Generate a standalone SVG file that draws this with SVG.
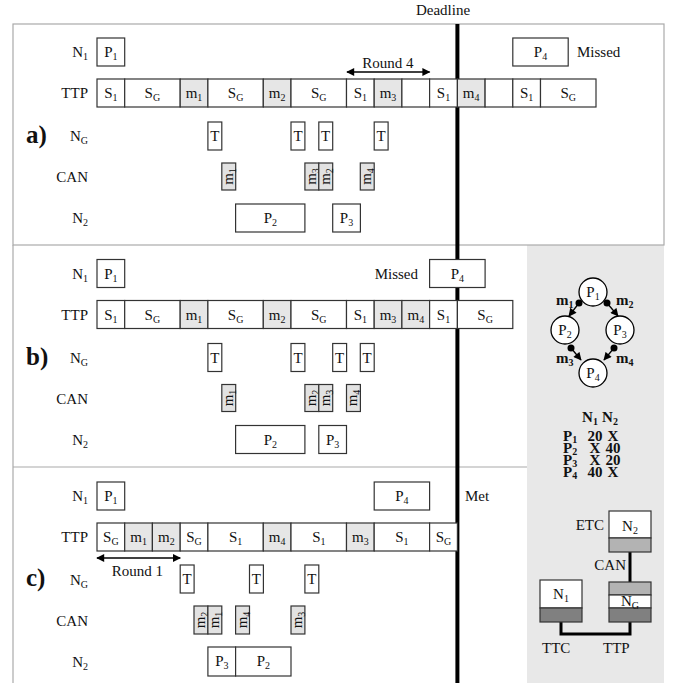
<svg xmlns="http://www.w3.org/2000/svg" width="676" height="683" viewBox="0 0 676 683">
<style>
text{font-family:"Liberation Serif","Times New Roman",serif;font-size:15px;fill:#111}
.r{text-anchor:end}
.c{text-anchor:middle}
.s{font-size:10px}
.b{fill:#fff;stroke:#333;stroke-width:1.2}
.g{fill:#e6e6e6;stroke:#333;stroke-width:1.2}
.cg{fill:#e2e2e2;stroke:#333;stroke-width:1.2}
.pl{font-size:25px;font-weight:bold}
.bd{font-weight:bold}
.frame{fill:none;stroke:#aaa;stroke-width:1.2}
</style>
<defs>
<marker id="ah" viewBox="0 0 10 10" refX="9" refY="5" markerWidth="10" markerHeight="8" markerUnits="userSpaceOnUse" orient="auto-start-reverse"><path d="M0,0 L10,5 L0,10 z" fill="#000"/></marker>
<marker id="ga" viewBox="0 0 10 10" refX="9" refY="5" markerWidth="9" markerHeight="8" markerUnits="userSpaceOnUse" orient="auto"><path d="M0,0 L10,5 L0,10 z" fill="#000"/></marker>
</defs>
<rect x="0" y="0" width="676" height="683" fill="#fff"/>
<rect x="527" y="245" width="137" height="438" fill="#e8e8e8"/>
<g id="frames">
<rect class="frame" x="13" y="24" width="651" height="221"/>
<line class="frame" x1="13" y1="245" x2="13" y2="683"/>
<line class="frame" x1="13" y1="467" x2="527" y2="467"/>
</g>
<text class="c" x="443" y="15">Deadline</text>
<g id="deadline"><line x1="457.4" y1="24" x2="457.4" y2="683" stroke="#000" stroke-width="4"/></g>

<!-- Panel a -->
<g id="panel-a">
<text class="pl" x="26" y="143">a)</text>
<text class="r" x="88" y="57">N<tspan class="s" dy="3">1</tspan></text>
<text class="r" x="88" y="98">TTP</text>
<text class="r" x="88" y="141">N<tspan class="s" dy="3">G</tspan></text>
<text class="r" x="88" y="182">CAN</text>
<text class="r" x="88" y="223">N<tspan class="s" dy="3">2</tspan></text>
<g id="a-n1">
<rect class="b" x="97" y="38" width="27.7" height="28"/><text class="c" x="110.9" y="57">P<tspan class="s" dy="3">1</tspan></text>
<rect class="b" x="512.8" y="38" width="55.4" height="28"/><text class="c" x="540.5" y="57">P<tspan class="s" dy="3">4</tspan></text>
<text x="577" y="57">Missed</text>
</g>
<g id="a-ttp">
<rect class="b" x="97" y="79" width="27.7" height="28"/><text class="c" x="110.9" y="98">S<tspan class="s" dy="3">1</tspan></text>
<rect class="b" x="124.7" y="79" width="55.5" height="28"/><text class="c" x="152.4" y="98">S<tspan class="s" dy="3">G</tspan></text>
<rect class="g" x="180.2" y="79" width="27.7" height="28"/><text class="c" x="194" y="98">m<tspan class="s" dy="3">1</tspan></text>
<rect class="b" x="207.9" y="79" width="55.4" height="28"/><text class="c" x="235.6" y="98">S<tspan class="s" dy="3">G</tspan></text>
<rect class="g" x="263.3" y="79" width="27.7" height="28"/><text class="c" x="277.2" y="98">m<tspan class="s" dy="3">2</tspan></text>
<rect class="b" x="291" y="79" width="55.5" height="28"/><text class="c" x="318.8" y="98">S<tspan class="s" dy="3">G</tspan></text>
<rect class="b" x="346.5" y="79" width="27.7" height="28"/><text class="c" x="360.3" y="98">S<tspan class="s" dy="3">1</tspan></text>
<rect class="g" x="374.2" y="79" width="27.7" height="28"/><text class="c" x="388" y="98">m<tspan class="s" dy="3">3</tspan></text>
<rect class="b" x="401.9" y="79" width="27.7" height="28"/>
<rect class="b" x="429.6" y="79" width="27.8" height="28"/><text class="c" x="443.5" y="98">S<tspan class="s" dy="3">1</tspan></text>
<rect class="g" x="457.4" y="79" width="27.7" height="28"/><text class="c" x="471.2" y="98">m<tspan class="s" dy="3">4</tspan></text>
<rect class="b" x="485.1" y="79" width="27.7" height="28"/>
<rect class="b" x="512.8" y="79" width="27.7" height="28"/><text class="c" x="526.6" y="98">S<tspan class="s" dy="3">1</tspan></text>
<rect class="b" x="540.5" y="79" width="55.5" height="28"/><text class="c" x="568.2" y="98">S<tspan class="s" dy="3">G</tspan></text>
</g>
<g id="a-round">
<line x1="347" y1="72" x2="429.6" y2="72" stroke="#000" stroke-width="1.5" marker-start="url(#ah)" marker-end="url(#ah)"/>
<text class="c" x="388" y="68">Round 4</text>
</g>
<g id="a-ng">
<rect class="b" x="207.9" y="122" width="13.9" height="28"/><text class="c" x="214.9" y="141">T</text>
<rect class="b" x="291" y="122" width="13.9" height="28"/><text class="c" x="298" y="141">T</text>
<rect class="b" x="318.8" y="122" width="13.9" height="28"/><text class="c" x="325.7" y="141">T</text>
<rect class="b" x="374.2" y="122" width="13.9" height="28"/><text class="c" x="381.1" y="141">T</text>
</g>
<g id="a-can">
<rect class="cg" x="221.8" y="163" width="13.9" height="27"/><text class="c" transform="translate(228.7,176.5) rotate(-90)" y="4">m<tspan class="s" dy="3">1</tspan></text>
<rect class="cg" x="304.9" y="163" width="13.9" height="27"/><text class="c" transform="translate(311.8,176.5) rotate(-90)" y="4">m<tspan class="s" dy="3">3</tspan></text>
<rect class="cg" x="318.8" y="163" width="13.9" height="27"/><text class="c" transform="translate(325.7,176.5) rotate(-90)" y="4">m<tspan class="s" dy="3">2</tspan></text>
<rect class="cg" x="360.3" y="163" width="13.9" height="27"/><text class="c" transform="translate(367.2,176.5) rotate(-90)" y="4">m<tspan class="s" dy="3">4</tspan></text>
</g>
<g id="a-n2">
<rect class="b" x="235.6" y="204" width="69.3" height="28"/><text class="c" x="270.3" y="223">P<tspan class="s" dy="3">2</tspan></text>
<rect class="b" x="332.7" y="204" width="27.7" height="28"/><text class="c" x="346.5" y="223">P<tspan class="s" dy="3">3</tspan></text>
</g>
</g>

<!-- Panel b -->
<g id="panel-b" transform="translate(0,221.5)">
<text class="pl" x="26" y="143">b)</text>
<text class="r" x="88" y="57">N<tspan class="s" dy="3">1</tspan></text>
<text class="r" x="88" y="98">TTP</text>
<text class="r" x="88" y="141">N<tspan class="s" dy="3">G</tspan></text>
<text class="r" x="88" y="182">CAN</text>
<text class="r" x="88" y="223">N<tspan class="s" dy="3">2</tspan></text>
<g id="b-n1">
<rect class="b" x="97" y="38" width="27.7" height="28"/><text class="c" x="110.9" y="57">P<tspan class="s" dy="3">1</tspan></text>
<rect class="b" x="429.6" y="38" width="55.5" height="28"/><text class="c" x="457.4" y="57">P<tspan class="s" dy="3">4</tspan></text>
<text class="r" x="418" y="57">Missed</text>
</g>
<g id="b-ttp">
<rect class="b" x="97" y="79" width="27.7" height="28"/><text class="c" x="110.9" y="98">S<tspan class="s" dy="3">1</tspan></text>
<rect class="b" x="124.7" y="79" width="55.5" height="28"/><text class="c" x="152.4" y="98">S<tspan class="s" dy="3">G</tspan></text>
<rect class="g" x="180.2" y="79" width="27.7" height="28"/><text class="c" x="194" y="98">m<tspan class="s" dy="3">1</tspan></text>
<rect class="b" x="207.9" y="79" width="55.4" height="28"/><text class="c" x="235.6" y="98">S<tspan class="s" dy="3">G</tspan></text>
<rect class="g" x="263.3" y="79" width="27.7" height="28"/><text class="c" x="277.2" y="98">m<tspan class="s" dy="3">2</tspan></text>
<rect class="b" x="291" y="79" width="55.5" height="28"/><text class="c" x="318.8" y="98">S<tspan class="s" dy="3">G</tspan></text>
<rect class="b" x="346.5" y="79" width="27.7" height="28"/><text class="c" x="360.3" y="98">S<tspan class="s" dy="3">1</tspan></text>
<rect class="g" x="374.2" y="79" width="27.7" height="28"/><text class="c" x="388" y="98">m<tspan class="s" dy="3">3</tspan></text>
<rect class="g" x="401.9" y="79" width="27.7" height="28"/><text class="c" x="415.8" y="98">m<tspan class="s" dy="3">4</tspan></text>
<rect class="b" x="429.6" y="79" width="27.8" height="28"/><text class="c" x="443.5" y="98">S<tspan class="s" dy="3">1</tspan></text>
<rect class="b" x="457.4" y="79" width="55.4" height="28"/><text class="c" x="485.1" y="98">S<tspan class="s" dy="3">G</tspan></text>
</g>
<g id="b-ng">
<rect class="b" x="207.9" y="122" width="13.9" height="28"/><text class="c" x="214.9" y="141">T</text>
<rect class="b" x="291" y="122" width="13.9" height="28"/><text class="c" x="298" y="141">T</text>
<rect class="b" x="332.7" y="122" width="13.9" height="28"/><text class="c" x="339.6" y="141">T</text>
<rect class="b" x="360.3" y="122" width="13.9" height="28"/><text class="c" x="367.2" y="141">T</text>
</g>
<g id="b-can">
<rect class="cg" x="221.8" y="163" width="13.9" height="27"/><text class="c" transform="translate(228.7,176.5) rotate(-90)" y="4">m<tspan class="s" dy="3">1</tspan></text>
<rect class="cg" x="304.9" y="163" width="13.9" height="27"/><text class="c" transform="translate(311.8,176.5) rotate(-90)" y="4">m<tspan class="s" dy="3">2</tspan></text>
<rect class="cg" x="318.8" y="163" width="13.9" height="27"/><text class="c" transform="translate(325.7,176.5) rotate(-90)" y="4">m<tspan class="s" dy="3">3</tspan></text>
<rect class="cg" x="346.5" y="163" width="13.9" height="27"/><text class="c" transform="translate(353.4,176.5) rotate(-90)" y="4">m<tspan class="s" dy="3">4</tspan></text>
</g>
<g id="b-n2">
<rect class="b" x="235.6" y="204" width="69.3" height="28"/><text class="c" x="270.3" y="223">P<tspan class="s" dy="3">2</tspan></text>
<rect class="b" x="318.8" y="204" width="27.7" height="28"/><text class="c" x="332.7" y="223">P<tspan class="s" dy="3">3</tspan></text>
</g>
</g>

<!-- Panel c -->
<g id="panel-c" transform="translate(0,444)">
<text class="pl" x="26" y="142">c)</text>
<text class="r" x="88" y="57">N<tspan class="s" dy="3">1</tspan></text>
<text class="r" x="88" y="98">TTP</text>
<text class="r" x="88" y="141">N<tspan class="s" dy="3">G</tspan></text>
<text class="r" x="88" y="182">CAN</text>
<text class="r" x="88" y="223">N<tspan class="s" dy="3">2</tspan></text>
<g id="c-n1">
<rect class="b" x="97" y="38" width="27.7" height="28"/><text class="c" x="110.9" y="57">P<tspan class="s" dy="3">1</tspan></text>
<rect class="b" x="374.2" y="38" width="55.4" height="28"/><text class="c" x="401.9" y="57">P<tspan class="s" dy="3">4</tspan></text>
<text x="465" y="57">Met</text>
</g>
<g id="c-ttp">
<rect class="b" x="97" y="79" width="27.7" height="28"/><text class="c" x="110.9" y="98">S<tspan class="s" dy="3">G</tspan></text>
<rect class="g" x="124.7" y="79" width="27.7" height="28"/><text class="c" x="138.6" y="98">m<tspan class="s" dy="3">1</tspan></text>
<rect class="g" x="152.4" y="79" width="27.8" height="28"/><text class="c" x="166.3" y="98">m<tspan class="s" dy="3">2</tspan></text>
<rect class="b" x="180.2" y="79" width="27.7" height="28"/><text class="c" x="194" y="98">S<tspan class="s" dy="3">G</tspan></text>
<rect class="b" x="207.9" y="79" width="55.4" height="28"/><text class="c" x="235.6" y="98">S<tspan class="s" dy="3">1</tspan></text>
<rect class="g" x="263.3" y="79" width="27.7" height="28"/><text class="c" x="277.2" y="98">m<tspan class="s" dy="3">4</tspan></text>
<rect class="b" x="291" y="79" width="55.5" height="28"/><text class="c" x="318.8" y="98">S<tspan class="s" dy="3">1</tspan></text>
<rect class="g" x="346.5" y="79" width="27.7" height="28"/><text class="c" x="360.3" y="98">m<tspan class="s" dy="3">3</tspan></text>
<rect class="b" x="374.2" y="79" width="55.4" height="28"/><text class="c" x="401.9" y="98">S<tspan class="s" dy="3">1</tspan></text>
<rect class="b" x="429.6" y="79" width="27.8" height="28"/><text class="c" x="443.5" y="98">S<tspan class="s" dy="3">G</tspan></text>
</g>
<g id="c-round">
<line x1="97" y1="114" x2="180.2" y2="114" stroke="#000" stroke-width="1.5" marker-start="url(#ah)" marker-end="url(#ah)"/>
<text class="c" x="137.5" y="132">Round 1</text>
</g>
<g id="c-ng">
<rect class="b" x="180.2" y="121" width="13.9" height="28"/><text class="c" x="187.1" y="140">T</text>
<rect class="b" x="249.5" y="121" width="13.9" height="28"/><text class="c" x="256.4" y="140">T</text>
<rect class="b" x="304.9" y="121" width="13.9" height="28"/><text class="c" x="311.8" y="140">T</text>
</g>
<g id="c-can">
<rect class="cg" x="194" y="162" width="13.9" height="28"/><text class="c" transform="translate(200.9,176) rotate(-90)" y="4">m<tspan class="s" dy="3">2</tspan></text>
<rect class="cg" x="207.9" y="162" width="13.9" height="28"/><text class="c" transform="translate(214.8,176) rotate(-90)" y="4">m<tspan class="s" dy="3">1</tspan></text>
<rect class="cg" x="235.6" y="162" width="13.9" height="28"/><text class="c" transform="translate(242.5,176) rotate(-90)" y="4">m<tspan class="s" dy="3">4</tspan></text>
<rect class="cg" x="291" y="162" width="13.9" height="28"/><text class="c" transform="translate(297.9,176) rotate(-90)" y="4">m<tspan class="s" dy="3">3</tspan></text>
</g>
<g id="c-n2">
<rect class="b" x="207.9" y="203" width="27.7" height="29"/><text class="c" x="221.8" y="222">P<tspan class="s" dy="3">3</tspan></text>
<rect class="b" x="235.6" y="203" width="55.4" height="29"/><text class="c" x="263.3" y="222">P<tspan class="s" dy="3">2</tspan></text>
</g>
</g>

<!-- Task graph -->
<g id="connectors">
<line x1="579" y1="303" x2="569" y2="316" stroke="#000" stroke-width="1.3" marker-end="url(#ga)"/>
<line x1="607" y1="303" x2="618" y2="316" stroke="#000" stroke-width="1.3" marker-end="url(#ga)"/>
<line x1="571" y1="348" x2="581" y2="360" stroke="#000" stroke-width="1.3" marker-end="url(#ga)"/>
<line x1="614" y1="348" x2="604" y2="360" stroke="#000" stroke-width="1.3" marker-end="url(#ga)"/>
<circle cx="579" cy="303" r="3.5" fill="#000"/>
<circle cx="607" cy="303" r="3.5" fill="#000"/>
<circle cx="571" cy="348" r="3.5" fill="#000"/>
<circle cx="614" cy="348" r="3.5" fill="#000"/>
<text class="bd" x="556" y="305">m<tspan class="s" dy="3">1</tspan></text>
<text class="bd" x="616" y="305">m<tspan class="s" dy="3">2</tspan></text>
<text class="bd" x="556" y="363">m<tspan class="s" dy="3">3</tspan></text>
<text class="bd" x="616" y="363">m<tspan class="s" dy="3">4</tspan></text>
</g>
<g id="gP1"><circle cx="593" cy="292" r="14" fill="#fff" stroke="#000" stroke-width="1.3"/><text class="c" x="593" y="297">P<tspan class="s" dy="3">1</tspan></text></g>
<g id="gP2"><circle cx="565" cy="330" r="14" fill="#fff" stroke="#000" stroke-width="1.3"/><text class="c" x="565" y="335">P<tspan class="s" dy="3">2</tspan></text></g>
<g id="gP3"><circle cx="620" cy="330" r="14" fill="#fff" stroke="#000" stroke-width="1.3"/><text class="c" x="620" y="335">P<tspan class="s" dy="3">3</tspan></text></g>
<g id="gP4"><circle cx="593" cy="373" r="14" fill="#fff" stroke="#000" stroke-width="1.3"/><text class="c" x="593" y="378">P<tspan class="s" dy="3">4</tspan></text></g>

<g id="table">
<text class="bd c" x="590" y="422">N<tspan class="s" dy="3">1</tspan></text>
<text class="bd c" x="610" y="422">N<tspan class="s" dy="3">2</tspan></text>
<text class="bd" x="563" y="441">P<tspan class="s" dy="2">1</tspan></text><text class="bd c" x="595" y="441">20</text><text class="bd c" x="613" y="441">X</text>
<text class="bd" x="563" y="453">P<tspan class="s" dy="2">2</tspan></text><text class="bd c" x="595" y="453">X</text><text class="bd c" x="613" y="453">40</text>
<text class="bd" x="563" y="465">P<tspan class="s" dy="2">3</tspan></text><text class="bd c" x="595" y="465">X</text><text class="bd c" x="613" y="465">20</text>
<text class="bd" x="563" y="477">P<tspan class="s" dy="2">4</tspan></text><text class="bd c" x="595" y="477">40</text><text class="bd c" x="613" y="477">X</text>
</g>

<g id="arch">
<path d="M630,552 V582" stroke="#000" stroke-width="3" fill="none"/>
<path d="M561,622 V634 H630 V622" stroke="#000" stroke-width="3" fill="none"/>
<g id="arch-N2">
<rect x="609" y="511" width="42" height="27" fill="#fff" stroke="#333" stroke-width="1.2"/>
<rect x="609" y="538" width="42" height="14" fill="#b3b3b3" stroke="#333" stroke-width="1.2"/>
<text class="c" x="630" y="531">N<tspan class="s" dy="3">2</tspan></text>
<text class="r" x="604" y="530">ETC</text>
</g>
<text class="r" x="626" y="570">CAN</text>
<g id="arch-NG">
<rect x="609" y="582" width="42" height="13" fill="#b3b3b3" stroke="#333" stroke-width="1.2"/>
<rect x="609" y="595" width="42" height="13" fill="#fff" stroke="#333" stroke-width="1.2"/>
<rect x="609" y="608" width="42" height="14" fill="#808080" stroke="#333" stroke-width="1.2"/>
<text class="c" x="630" y="606">N<tspan class="s" dy="3">G</tspan></text>
</g>
<g id="arch-N1">
<rect x="540" y="580" width="42" height="28" fill="#fff" stroke="#333" stroke-width="1.2"/>
<rect x="540" y="608" width="42" height="14" fill="#808080" stroke="#333" stroke-width="1.2"/>
<text class="c" x="561" y="599">N<tspan class="s" dy="3">1</tspan></text>
</g>
<text x="542" y="653">TTC</text>
<text x="603" y="653">TTP</text>
</g>
</svg>
